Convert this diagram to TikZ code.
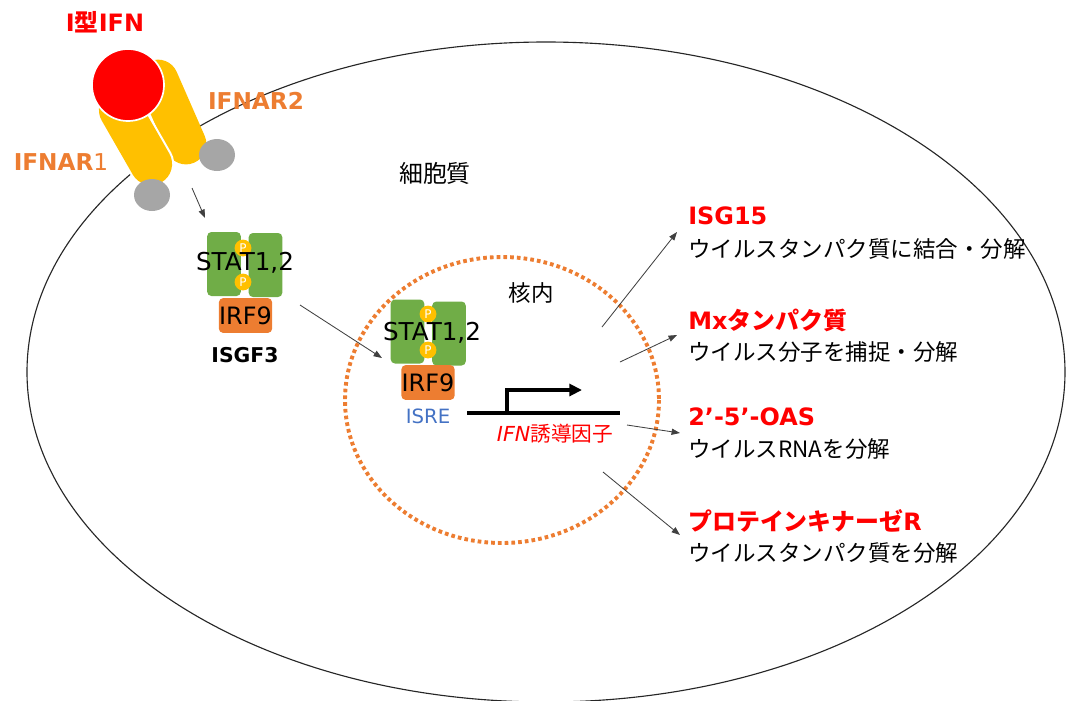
\documentclass[tikz,border=0pt]{standalone}
\usepackage{fontspec}
\setmainfont{DejaVu Sans}
\newfontfamily\jp{Noto Sans CJK JP}
\usetikzlibrary{arrows.meta}

\definecolor{ifnred}{HTML}{FF0000}
\definecolor{rcpyellow}{HTML}{FFC000}
\definecolor{rcpgrey}{HTML}{A6A6A6}
\definecolor{rcporange}{HTML}{ED7D31}
\definecolor{statgreen}{HTML}{70AD47}
\definecolor{isreblue}{HTML}{4472C4}

\begin{document}
\begin{tikzpicture}[x=0.025cm,y=-0.025cm,
  statbox/.style={rectangle,rounded corners=3pt,fill=statgreen,minimum width=0.84cm,minimum height=1.6cm,inner sep=0pt},
  pdot/.style={circle,fill=rcpyellow,minimum size=0.42cm,inner sep=0pt,text=white,font=\fontsize{8.5}{8.5}\selectfont},
  irfbox/.style={rectangle,rounded corners=3pt,fill=rcporange,minimum width=1.33cm,minimum height=0.87cm,inner sep=0pt,font=\fontsize{17}{17}\selectfont},
  statlbl/.style={inner sep=0pt,font=\fontsize{17.5}{17.5}\selectfont},
  sig/.style={-{Triangle[length=6pt,width=4.4pt]},draw=black!75,line width=0.6pt},
  heading/.style={anchor=west,text=ifnred,inner sep=0pt,font=\fontsize{17}{20}\selectfont\bfseries},
  role/.style={anchor=west,inner sep=0pt,font=\jp\fontsize{16}{19}\selectfont},
  rcplbl/.style={text=rcporange,inner sep=0pt,font=\fontsize{16.5}{18}\selectfont\bfseries}]
\useasboundingbox (0,0) rectangle (1068,700);
% Cell and nucleus
\draw[line width=0.8pt,black!85] (546,372) ellipse [x radius=519, y radius=330];
\draw[rcporange,line width=2.8pt,dash pattern=on 2.6pt off 2.2pt] (502,400) ellipse [x radius=157, y radius=143];
% Receptor
\draw[rcpyellow,line width=29pt,line cap=round] (158,80) -- (186,144);
\draw[white,line width=33pt,line cap=round] (120,110) -- (151,164);
\draw[rcpyellow,line width=30pt,line cap=round] (120,110) -- (151,164);
\fill[rcpgrey] (152,195) ellipse [x radius=18, y radius=16];
\fill[rcpgrey] (217,155) ellipse [x radius=18, y radius=16];
\node at (128,85) [circle,fill=ifnred,draw=white,line width=1.2pt,minimum size=1.8cm,inner sep=0pt] (IFN) {};
\node at (105,22) [text=ifnred,inner sep=0pt,font=\fontsize{17}{18}\selectfont\bfseries] (IFNLabel) {I{\jp 型}IFN};
\node at (256,101) [rcplbl] (AR2) {IFNAR2};
\node at (61,162) [rcplbl] (AR1) {IFNAR{\mdseries 1}};
% ISGF3 in cytoplasm
\node at (224,264) [statbox] (StatA) {};
\node at (265.5,265) [statbox] (StatB) {};
\node at (243,248) [pdot] (PA) {P};
\node at (243,282) [pdot] (PB) {P};
\node at (245,263) [statlbl] (StatLabelA) {STAT1,2};
\node at (245.5,315.5) [irfbox] (IrfA) {IRF9};
\node at (245,355) [inner sep=0pt,font=\fontsize{14.5}{15}\selectfont\bfseries] (ISGF) {ISGF3};
% ISGF3 in nucleus
\node at (407.5,331.5) [statbox] (StatC) {};
\node at (449,333.5) [statbox] (StatD) {};
\node at (428,314) [pdot] (PC) {P};
\node at (428,350) [pdot] (PD) {P};
\node at (432,333) [statlbl] (StatLabelB) {STAT1,2};
\node at (428,382.5) [irfbox] (IrfB) {IRF9};
\node at (428,416) [text=isreblue,inner sep=0pt,font=\fontsize{14}{15}\selectfont] (ISRE) {ISRE};
% Gene
\coordinate (GeneL) at (467,413);
\coordinate (GeneR) at (620,413);
\coordinate (TssBase) at (507,413);
\coordinate (TssTip) at (582,390);
\draw[line width=2.8pt] (GeneL) -- (GeneR);
\draw[line width=2.8pt,-{Triangle[length=9pt,width=8.5pt]}] (TssBase) |- (TssTip);
\node at (555,434) [text=ifnred,inner sep=0pt,font=\fontsize{14.7}{16}\selectfont] (Gene) {{\itshape IFN}{\jp 誘導因子}};
% Compartment labels
\node at (435,173) [inner sep=0pt,font=\jp\fontsize{17}{18}\selectfont] (Cyto) {細胞質};
\node at (531,293) [inner sep=0pt,font=\jp\fontsize{16}{18}\selectfont] (Nuc) {核内};
% Products
\node at (688,216) [heading] (ISG) {ISG15};
\node at (688,249) [role] (ISGRole) {ウイルスタンパク質に結合・分解};
\node at (688,320) [heading] (Mx) {Mx{\jp タンパク質}};
\node at (688,352) [role] (MxRole) {ウイルス分子を捕捉・分解};
\node at (688,417) [heading] (OAS) {2’-5’-OAS};
\node at (688,449) [role] (OASRole) {ウイルスRNAを分解};
\node at (688,521) [heading] (PKR) {{\jp プロテインキナーゼ}R};
\node at (688,553) [role] (PKRRole) {ウイルスタンパク質を分解};
% Signalling arrows
\coordinate (RcpOut) at (192,188);
\coordinate (CytoIn) at (205,218);
\coordinate (IsgfOut) at (300,305);
\coordinate (NucIn) at (382,358);
\coordinate (ISGFrom) at (602,327);
\coordinate (ISGTo) at (677,232);
\coordinate (MxFrom) at (620,362);
\coordinate (MxTo) at (677,335);
\coordinate (OASFrom) at (627,425);
\coordinate (OASTo) at (680,433);
\coordinate (PKRFrom) at (603,472);
\coordinate (PKRTo) at (680,535);
\draw[sig] (RcpOut) -- (CytoIn);
\draw[sig] (IsgfOut) -- (NucIn);
\draw[sig] (ISGFrom) -- (ISGTo);
\draw[sig] (MxFrom) -- (MxTo);
\draw[sig] (OASFrom) -- (OASTo);
\draw[sig] (PKRFrom) -- (PKRTo);
\end{tikzpicture}
\end{document}
